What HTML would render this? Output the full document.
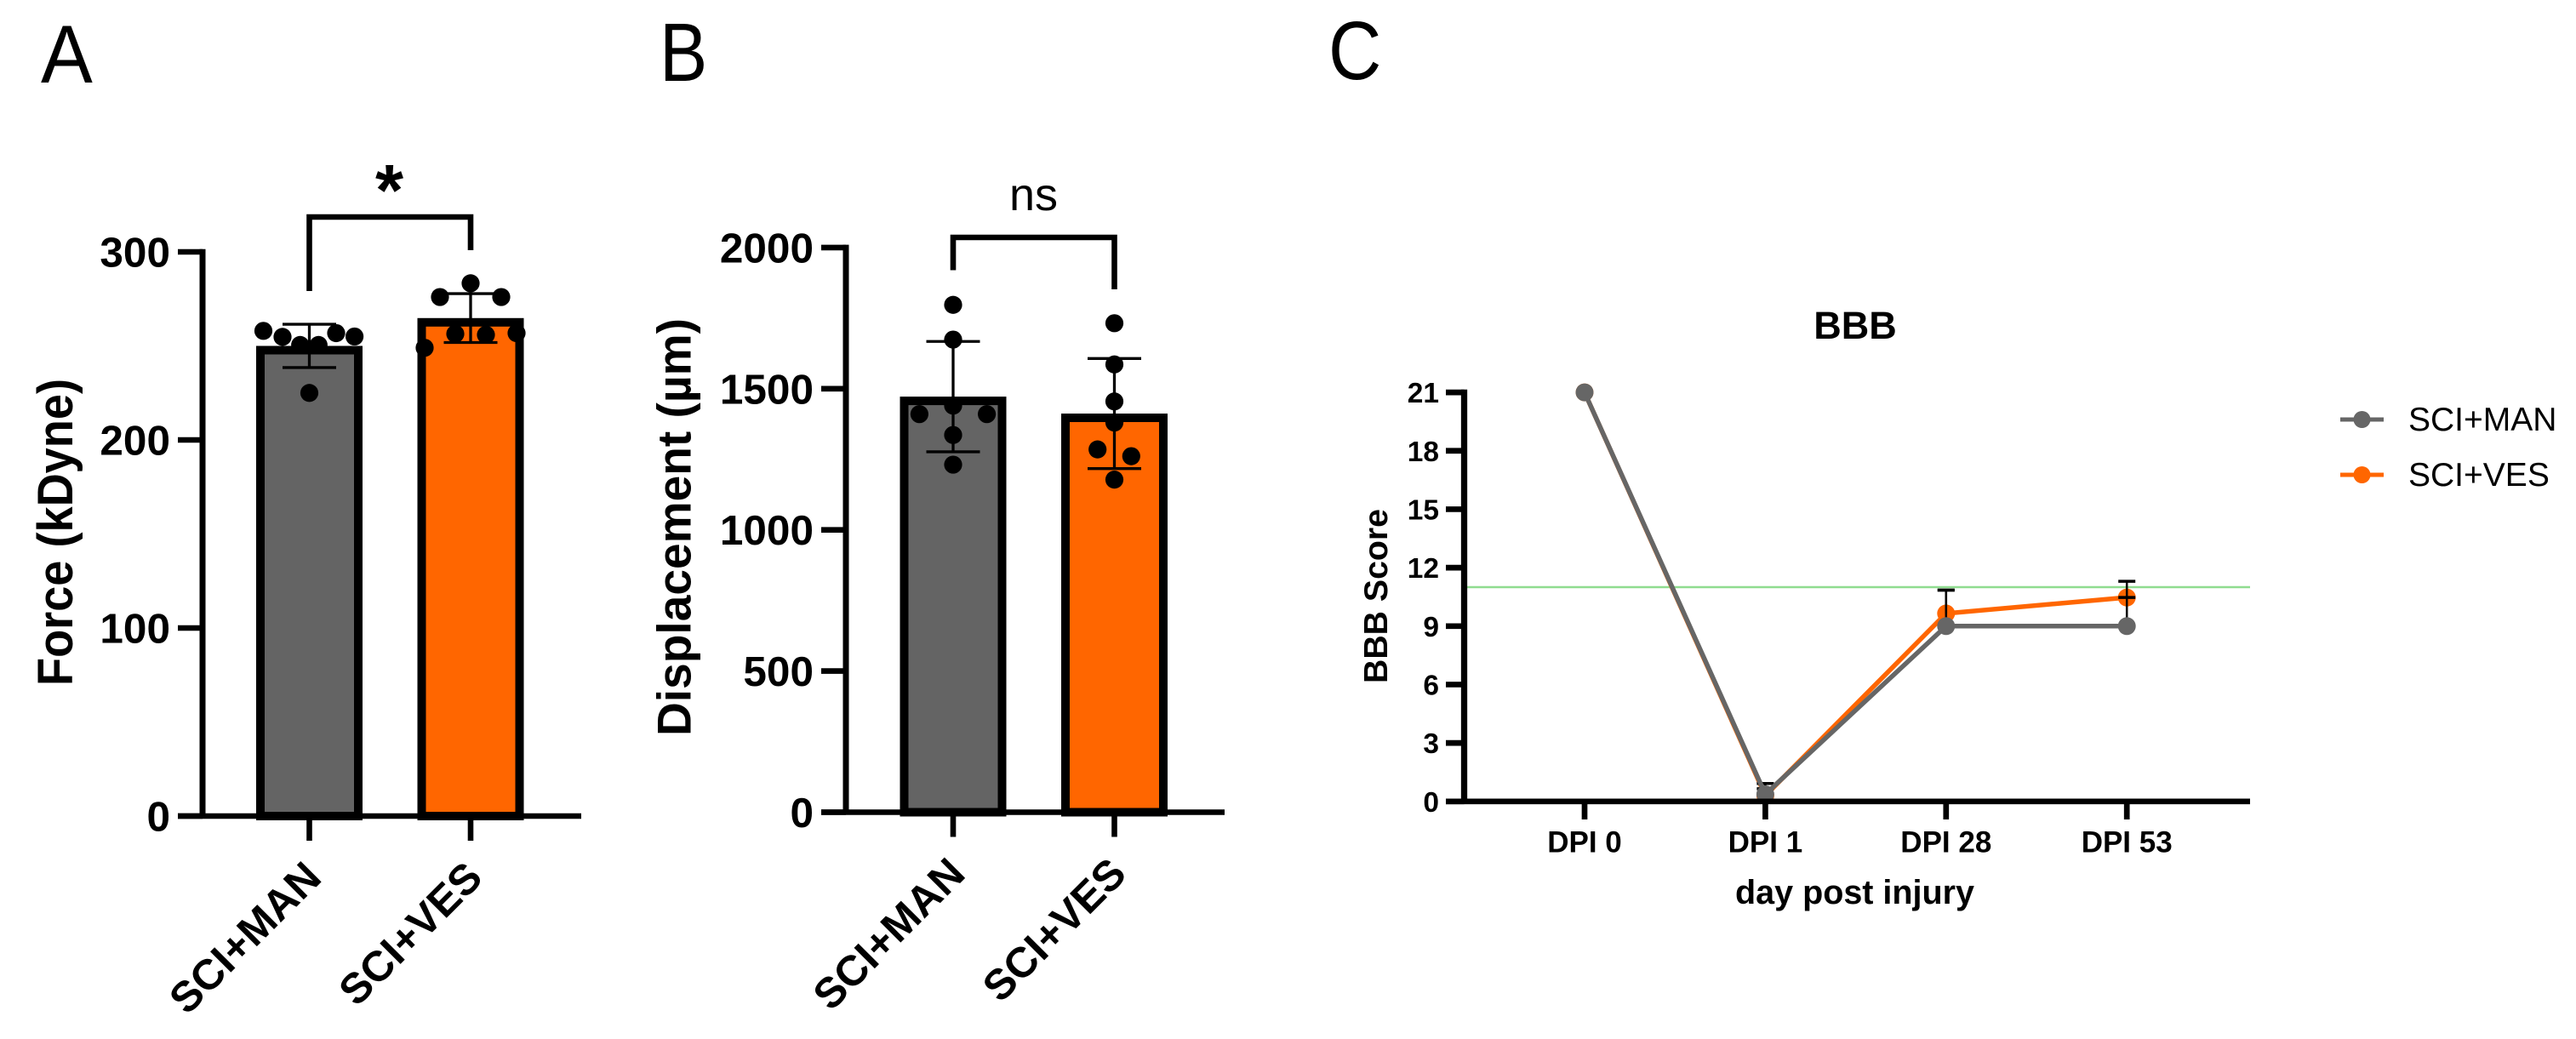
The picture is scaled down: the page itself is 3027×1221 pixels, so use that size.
<!DOCTYPE html>
<html lang="en">
<head>
<meta charset="utf-8">
<title>Force, displacement and BBB score panels</title>
<style>
html,body{margin:0;padding:0;background:#fff;width:3027px;height:1221px;overflow:hidden}
svg{display:block;font-family:"Liberation Sans",sans-serif}
text{fill:#000}
.b{font-weight:700}
</style>
</head>
<body>
<svg id="fig" xmlns="http://www.w3.org/2000/svg" width="3027" height="1221" viewBox="0 0 3027 1221">
  <rect width="3027" height="1221" fill="#fff"/>
  <text transform="translate(48,97) scale(.94,1)" font-size="97">A</text>
  <text transform="translate(775,95) scale(.87,1)" font-size="97">B</text>
  <text transform="translate(1561,93) scale(.89,1)" font-size="97">C</text>

  <g id="panelA"></g>
  <g id="panelB"></g>
  <g id="panelC"></g>

  <text class="b" transform="translate(85,806) rotate(-90)" font-size="58" textLength="361" lengthAdjust="spacingAndGlyphs">Force (kDyne)</text>
  <text class="b" transform="translate(811.5,865) rotate(-90)" font-size="56" textLength="491" lengthAdjust="spacingAndGlyphs">Displacement (µm)</text>
  <text class="b" x="457.5" y="253" font-size="85" text-anchor="middle">*</text>
  <text x="1214.5" y="247" font-size="54" text-anchor="middle">ns</text>

  <text class="b" x="2180" y="398" font-size="45" text-anchor="middle">BBB</text>
  <text class="b" transform="translate(1630,803) rotate(-90)" font-size="39" textLength="205" lengthAdjust="spacingAndGlyphs">BBB Score</text>
  <text class="b" x="2179.5" y="1062" font-size="39.5" text-anchor="middle">day post injury</text>

  <g>
    <g>
      <line x1="2750" x2="2801" y1="493" y2="493" stroke="#666666" stroke-width="5"/>
      <circle cx="2775.5" cy="493" r="10" fill="#666666"/>
      <text x="2830" y="506" font-size="39">SCI+MAN</text>
    </g>
    <g>
      <line x1="2750" x2="2801" y1="558" y2="558" stroke="#ff6600" stroke-width="5"/>
      <circle cx="2775.5" cy="558" r="10" fill="#ff6600"/>
      <text x="2830" y="571" font-size="39">SCI+VES</text>
    </g>
  </g>
</svg>
<script>
/* ---------- Panel A data ---------- */
const groupNames = ['SCI+MAN', 'SCI+VES'];
const forceTicks = [0, 100, 200, 300];
const forceMeans = [250, 264.8];
const forceSD = [11.5, 13];
const forceManValues = [258, 254.8, 250.5, 250.5, 256.8, 255, 225];
const forceManSwarm = [-3, -1.75, -0.6, 0.6, 1.75, 2.95, 0];
const forceVesValues = [283.3, 276, 276, 256.4, 255.9, 249, 256.8];
const forceVesSwarm = [0, -2, 2, -1, 1, -3, 3];

/* ---------- Panel B data ---------- */
const dispTicks = [0, 500, 1000, 1500, 2000];
const dispMeans = [1472, 1412];
const dispSD = [195.5, 195];
const dispManValues = [1797, 1674, 1440, 1410, 1410, 1336, 1231];
const dispManSwarm = [0, 0, 0, -2.2, 2.2, 0, 0];
const dispVesValues = [1732, 1586, 1455, 1380, 1285, 1261, 1178];
const dispVesSwarm = [0, 0, 0, 0, -1.1, 1.1, 0];

/* ---------- Panel C data ---------- */
const bbbTicks = [0, 3, 6, 9, 12, 15, 18, 21];
const bbbDays = ['DPI 0', 'DPI 1', 'DPI 28', 'DPI 53'];
const bbbManScores = [21, 0.37, 9, 9];
const bbbManErrUp = [0, 0.55, 1.85, 1.47];
const bbbVesScores = [21, 0.3, 9.65, 10.47];
const bbbVesErrUp = [0, 0.35, 1.2, 0.83];
const bbbThreshold = 11;

const SVGNS = 'http://www.w3.org/2000/svg';
function mk(parent, tag, attrs, txt) {
  const el = document.createElementNS(SVGNS, tag);
  for (const k in attrs) el.setAttribute(k, attrs[k]);
  if (txt !== undefined) el.textContent = txt;
  parent.appendChild(el);
  return el;
}
const GREY = '#646464', ORANGE = '#ff6600';

function drawBarPanel(root, prefix, o) {
  const y = v => o.y0 - v * o.k;
  const x = i => o.x0 + i * o.dx;
  const fills = [GREY, ORANGE];
  const sw = 10, half = 62.5;

  o.means.forEach((m, i) => {
    const bar = mk(root, 'rect', {x: x(i) - half + sw / 2, y: y(m) + sw / 2, width: 2 * half - sw, height: o.y0 - y(m) - sw / 2, fill: fills[i], stroke: '#000', 'stroke-width': sw});
    
    
  });

  o.means.forEach((m, i) => {
    const errG = mk(root, 'g', {stroke: '#000', 'stroke-width': 3.3});
    
    
    const cx = x(i);
    const hi = y(m + o.sd[i]), lo = y(m - o.sd[i]);
    mk(errG, 'line', {x1: cx, x2: cx, y1: hi, y2: lo});
    mk(errG, 'line', {x1: cx - 31.5, x2: cx + 31.5, y1: hi, y2: hi});
    mk(errG, 'line', {x1: cx - 31.5, x2: cx + 31.5, y1: lo, y2: lo});
  });

  o.points.forEach((vals, i) => {
    const g = mk(root, 'g', {fill: '#000'});
    
    
    vals.forEach((v, j) => {
      const dot = mk(g, 'circle', {cx: x(i) + o.swarm[i][j] * 18, cy: y(v), r: 10.6});
      
      
    });
  });

  const yAxis = mk(root, 'line', {x1: o.axisX, x2: o.axisX, y1: y(o.ticks[o.ticks.length - 1]) - 3.3, y2: o.y0 + 3, stroke: '#000', 'stroke-width': 7});
  
  
  const xAxis = mk(root, 'line', {x1: o.axisX - 29, x2: o.axisEnd, y1: o.y0, y2: o.y0, stroke: '#000', 'stroke-width': 6.6});
  
  

  o.ticks.forEach(t => {
    const tick = mk(root, 'line', {x1: o.axisX - 29, x2: o.axisX, y1: y(t), y2: y(t), stroke: '#000', 'stroke-width': 6.6});
    
    
    const lab = mk(root, 'text', {x: o.axisX - 38, y: y(t) + 17.5, 'font-size': 49.5, 'font-weight': 700, 'text-anchor': 'end'}, String(t));
    
    
  });

  groupNames.forEach((name, i) => {
    const tick = mk(root, 'line', {x1: x(i), x2: x(i), y1: o.y0, y2: o.y0 + 29, stroke: '#000', 'stroke-width': 6.6});
    
    
    const ax = x(i) + 16.5, ay = o.y0 + 75;
    const lab = mk(root, 'text', {x: 0, y: 0, transform: 'translate(' + ax + ',' + ay + ') rotate(-45)', 'font-size': 50, 'font-weight': 700, 'text-anchor': 'end'}, name);
    
    
  });

  const br = mk(root, 'path', {d: 'M' + x(0) + ' ' + o.bracketLeftEnd + 'V' + o.bracketTop + 'H' + x(1) + 'V' + o.bracketRightEnd, fill: 'none', stroke: '#000', 'stroke-width': 6.6});
  
  
}

drawBarPanel(document.getElementById('panelA'), 'force', {
  y0: 959, k: 2.21, x0: 363.5, dx: 189.5, axisX: 238, axisEnd: 683,
  ticks: forceTicks, means: forceMeans, sd: forceSD,
  points: [forceManValues, forceVesValues], swarm: [forceManSwarm, forceVesSwarm],
  bracketLeftEnd: 342, bracketRightEnd: 294, bracketTop: 255
});
drawBarPanel(document.getElementById('panelB'), 'displacement', {
  y0: 954.5, k: 0.3318, x0: 1120, dx: 189.5, axisX: 994, axisEnd: 1439,
  ticks: dispTicks, means: dispMeans, sd: dispSD,
  points: [dispManValues, dispVesValues], swarm: [dispManSwarm, dispVesSwarm],
  bracketLeftEnd: 317.5, bracketRightEnd: 340, bracketTop: 279
});

/* ---------- Panel C ---------- */
(function () {
  const root = document.getElementById('panelC');
  const y0 = 941.8, k = 22.89, x0 = 1862, dx = 212.4, axisX = 1720.5, axisEnd = 2644;
  const y = v => y0 - v * k;
  const x = i => x0 + i * dx;

  const thr = mk(root, 'line', {x1: axisX, x2: axisEnd, y1: y(bbbThreshold), y2: y(bbbThreshold), stroke: '#8fdc8f', 'stroke-width': 2.4});
  
  

  function series(name, scores, color) {
    const g = mk(root, 'g', {});
    
    
    const pl = mk(g, 'polyline', {points: scores.map((v, i) => x(i) + ',' + y(v)).join(' '), fill: 'none', stroke: color, 'stroke-width': 5.5});
    
    
    scores.forEach((v, i) => {
      const c = mk(g, 'circle', {cx: x(i), cy: y(v), r: 10.5, fill: color});
      
      
    });
  }
  function errors(name, scores, ups) {
    scores.forEach((v, i) => {
      if (!ups[i]) return;
      const g = mk(root, 'g', {stroke: '#000', 'stroke-width': 2.5});
      
      
      mk(g, 'line', {x1: x(i), x2: x(i), y1: y(v), y2: y(v + ups[i])});
      mk(g, 'line', {x1: x(i) - 10, x2: x(i) + 10, y1: y(v + ups[i]), y2: y(v + ups[i]), 'stroke-width': 3.5});
    });
  }
  series('sci-ves', bbbVesScores, ORANGE);
  errors('sci-ves', bbbVesScores, bbbVesErrUp);
  errors('sci-man', bbbManScores, bbbManErrUp);
  series('sci-man', bbbManScores, '#666666');

  const yAxis = mk(root, 'line', {x1: axisX, x2: axisX, y1: y(21) - 3.3, y2: y0 + 3, stroke: '#000', 'stroke-width': 7.3});
  
  
  const xAxis = mk(root, 'line', {x1: axisX - 21.5, x2: axisEnd, y1: y0, y2: y0, stroke: '#000', 'stroke-width': 6.7});
  
  

  bbbTicks.forEach(t => {
    const tick = mk(root, 'line', {x1: axisX - 21.5, x2: axisX, y1: y(t), y2: y(t), stroke: '#000', 'stroke-width': 6.7});
    
    
    const lab = mk(root, 'text', {x: 1691, y: y(t) + 12, 'font-size': 33.5, 'font-weight': 700, 'text-anchor': 'end'}, String(t));
    
    
  });
  bbbDays.forEach((d, i) => {
    const tick = mk(root, 'line', {x1: x(i), x2: x(i), y1: y0, y2: 963, stroke: '#000', 'stroke-width': 6.7});
    
    
    const lab = mk(root, 'text', {x: x(i), y: 1001.5, 'font-size': 35, 'font-weight': 700, 'text-anchor': 'middle'}, d);
    
    
  });
})();
</script>
</body>
</html>
